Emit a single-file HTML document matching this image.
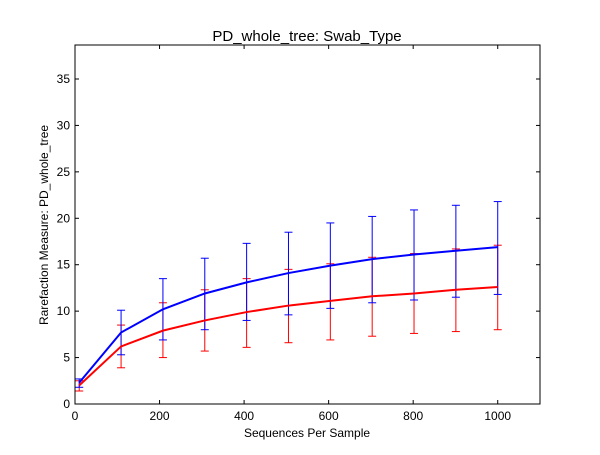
<!DOCTYPE html>
<html><head><meta charset="utf-8"><style>
body{margin:0;background:#fff;width:600px;height:450px;overflow:hidden}
text{font-family:"Liberation Sans",sans-serif}
</style></head><body>
<svg id="c" width="600" height="450">
<rect x="0" y="0" width="600" height="450" fill="#fff"/>
</svg>
<script>
const xs=[10,109,208,307,406,505,604,703,802,901,1000];
const blueMean=[2.3,7.7,10.2,11.9,13.1,14.1,14.9,15.6,16.1,16.5,16.9];
const blueHi=[2.7,10.1,13.5,15.7,17.3,18.5,19.5,20.2,20.9,21.4,21.8];
const blueLo=[1.8,5.3,6.9,8.0,9.0,9.6,10.3,10.9,11.2,11.5,11.8];
const redMean=[2.0,6.2,7.9,9.0,9.9,10.6,11.1,11.6,11.9,12.3,12.6];
const redHi=[2.5,8.5,10.9,12.3,13.5,14.5,15.1,15.8,16.2,16.7,17.1];
const redLo=[1.4,3.9,5.0,5.7,6.1,6.6,6.9,7.3,7.6,7.8,8.0];
const xTicks=[0,200,400,600,800,1000];
const yTicks=[0,5,10,15,20,25,30,35];
const L=75,R=540,T=45,B=404;
const X=v=>L+(v/1100)*(R-L);
const Y=v=>B-v*(325/35);
const svg=document.getElementById('c');
const NS='http://www.w3.org/2000/svg';
function mk(tag,at,name){const e=document.createElementNS(NS,tag);for(const k in at)e.setAttribute(k,at[k]);


svg.appendChild(e);return e;}
function series(mean,hi,lo,col,nm){
  xs.forEach((x,i)=>{
    mk('line',{x1:X(x),x2:X(x),y1:Y(hi[i]),y2:Y(lo[i]),stroke:col,'stroke-width':1},nm+'-errorbar');
    [hi[i],lo[i]].forEach(v=>mk('line',{x1:X(x)-4,x2:X(x)+4,y1:Y(v),y2:Y(v),stroke:col,'stroke-width':1},nm+'-errorcap'));
  });
}
function line(mean,col,nm){
  mk('polyline',{points:xs.map((x,i)=>X(x)+','+Y(mean[i])).join(' '),fill:'none',stroke:col,'stroke-width':2},nm+'-line');
}
series(redMean,redHi,redLo,'#ff0000','red');
series(blueMean,blueHi,blueLo,'#0000ff','blue');
line(redMean,'#ff0000','red');
line(blueMean,'#0000ff','blue');
mk('rect',{x:L,y:T,width:R-L,height:B-T,fill:'none',stroke:'#000','stroke-width':1},'plot-frame');
xTicks.forEach(t=>{const x=X(t);
  mk('line',{x1:x,x2:x,y1:B,y2:B-4,stroke:'#000'},'x-tick');
  mk('line',{x1:x,x2:x,y1:T,y2:T+4,stroke:'#000'},'x-tick-top');
  const e=mk('text',{x:x,y:B+16,'text-anchor':'middle','font-size':12},'x-tick-label');e.textContent=t;});
yTicks.forEach(t=>{const y=Y(t);
  mk('line',{x1:L,x2:L+4,y1:y,y2:y,stroke:'#000'},'y-tick');
  mk('line',{x1:R,x2:R-4,y1:y,y2:y,stroke:'#000'},'y-tick-right');
  const e=mk('text',{x:L-5,y:y+4,'text-anchor':'end','font-size':12},'y-tick-label');e.textContent=t;});
let e=mk('text',{x:307,y:41,'text-anchor':'middle','font-size':15},'chart-title');e.textContent='PD_whole_tree: Swab_Type';
e=mk('text',{x:307,y:437,'text-anchor':'middle','font-size':12},'x-axis-title');e.textContent='Sequences Per Sample';
e=mk('text',{x:0,y:0,'text-anchor':'middle','font-size':12,transform:'translate(48,225) rotate(-90)'},'y-axis-title');e.textContent='Rarefaction Measure: PD_whole_tree';
</script>
</body></html>
